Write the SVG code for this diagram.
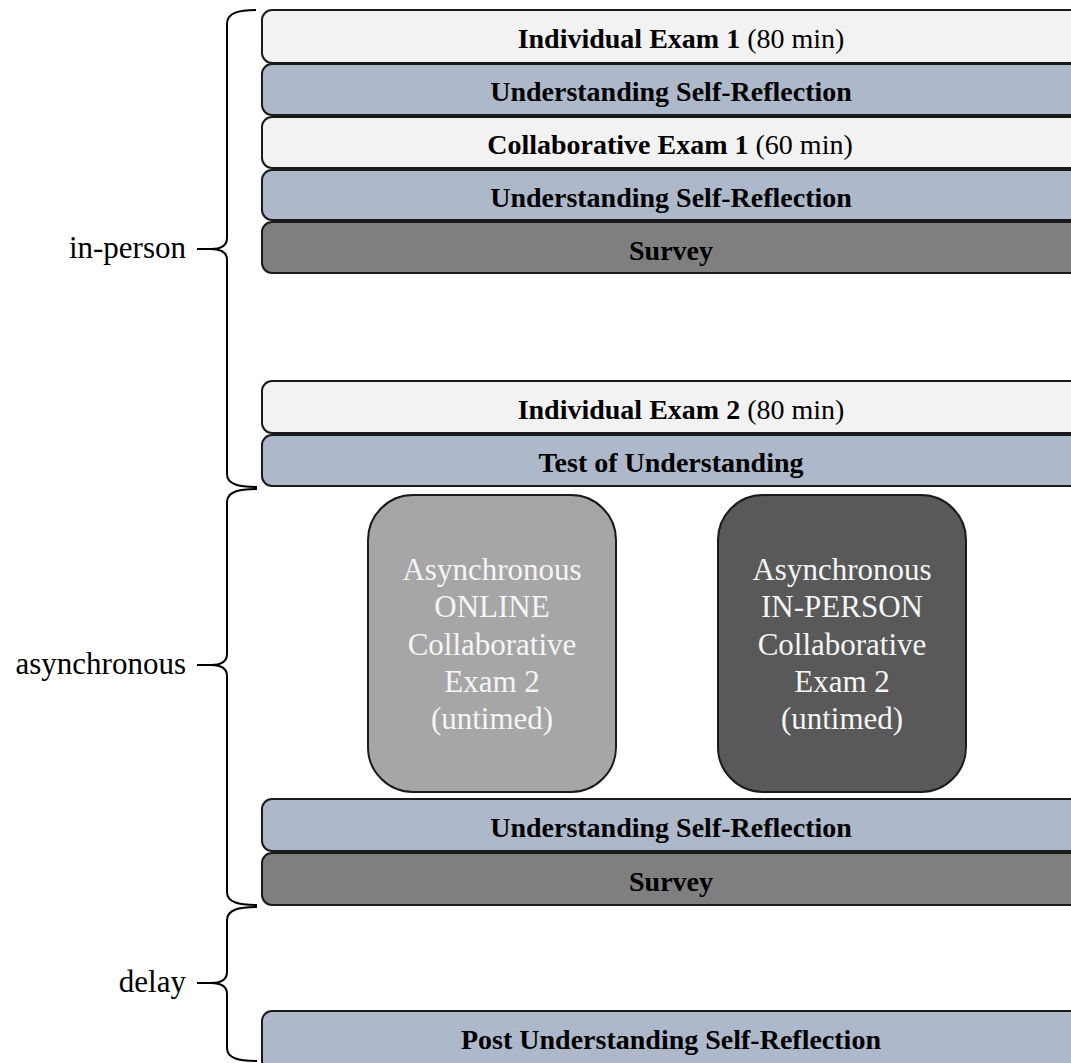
<svg xmlns="http://www.w3.org/2000/svg" width="1071" height="1063" viewBox="0 0 1071 1063">
<style>
.bar{stroke:#1a1a1a;stroke-width:2}
.light{fill:#f2f2f2}
.blue{fill:#adb9ca}
.survey{fill:#7f7f7f}
.bt{font-family:"Liberation Serif",serif;font-size:28px;fill:#000;text-anchor:middle}
.b{font-weight:bold}
.side{font-family:"Liberation Serif",serif;font-size:31px;fill:#000;text-anchor:end}
.brace{fill:none;stroke:#000;stroke-width:2;stroke-linejoin:miter}
.async{font-family:"Liberation Serif",serif;font-size:31px;fill:#f5f5f5;text-anchor:middle}
</style>
<rect width="1071" height="1063" fill="#fff"/>
<g id="braces">
<path class="brace" d="M256,10 C238,10 227,13 227,24 L227,238 C227,246 221,249 211,249 L197,249 L211,249 C221,249 227,252 227,260 L227,474 C227,484 238,487 257,487"/>
<path class="brace" d="M257,489 C238,489 227,492 227,502 L227,654 C227,662 221,665 211,665 L197,665 L211,665 C221,665 227,668 227,676 L227,892 C227,902 238,905 257,905"/>
<path class="brace" d="M257,907 C238,907 227,910 227,920 L227,972 C227,980 221,983 211,983 L197,983 L211,983 C221,983 227,986 227,994 L227,1048 C227,1058 238,1061 257,1061"/>
</g>
<g id="label-in-person"><text class="side" x="186" y="258">in-person</text></g>
<g id="label-asynchronous"><text class="side" x="186" y="674">asynchronous</text></g>
<g id="label-delay"><text class="side" x="186" y="992">delay</text></g>
<g id="individual-exam-1"><rect class="bar light" x="262" y="10" width="820" height="53" rx="10"/><text class="bt" x="681" y="48"><tspan class="b">Individual Exam 1</tspan> (80 min)</text></g>
<g id="usr-1"><rect class="bar blue" x="262" y="64" width="820" height="51" rx="10"/><text class="bt b" x="671" y="101">Understanding Self-Reflection</text></g>
<g id="collaborative-exam-1"><rect class="bar light" x="262" y="117" width="820" height="51" rx="10"/><text class="bt" x="670" y="154"><tspan class="b">Collaborative Exam 1</tspan> (60 min)</text></g>
<g id="usr-2"><rect class="bar blue" x="262" y="170" width="820" height="50" rx="10"/><text class="bt b" x="671" y="207">Understanding Self-Reflection</text></g>
<g id="survey-1"><rect class="bar survey" x="262" y="222" width="820" height="51" rx="10"/><text class="bt b" x="671" y="260">Survey</text></g>
<g id="individual-exam-2"><rect class="bar light" x="262" y="381" width="820" height="52" rx="10"/><text class="bt" x="681" y="419"><tspan class="b">Individual Exam 2</tspan> (80 min)</text></g>
<g id="test-of-understanding"><rect class="bar blue" x="262" y="435" width="820" height="51" rx="10"/><text class="bt b" x="671" y="472">Test of Understanding</text></g>
<g id="async-online"><rect x="368" y="495" width="248" height="297" rx="45" fill="#a6a6a6" stroke="#1a1a1a" stroke-width="2"/>
<text class="async" x="492"><tspan x="492" y="580">Asynchronous</tspan><tspan x="492" y="617">ONLINE</tspan><tspan x="492" y="655">Collaborative</tspan><tspan x="492" y="692">Exam 2</tspan><tspan x="492" y="729">(untimed)</tspan></text></g>
<g id="async-in-person"><rect x="718" y="495" width="248" height="297" rx="45" fill="#595959" stroke="#1a1a1a" stroke-width="2"/>
<text class="async" x="842"><tspan x="842" y="580">Asynchronous</tspan><tspan x="842" y="617">IN-PERSON</tspan><tspan x="842" y="655">Collaborative</tspan><tspan x="842" y="692">Exam 2</tspan><tspan x="842" y="729">(untimed)</tspan></text></g>
<g id="usr-3"><rect class="bar blue" x="262" y="799" width="820" height="52" rx="10"/><text class="bt b" x="671" y="837">Understanding Self-Reflection</text></g>
<g id="survey-2"><rect class="bar survey" x="262" y="853" width="820" height="52" rx="10"/><text class="bt b" x="671" y="891">Survey</text></g>
<g id="post-usr"><rect class="bar blue" x="262" y="1011" width="820" height="60" rx="10"/><text class="bt b" x="671" y="1049">Post Understanding Self-Reflection</text></g>
</svg>
